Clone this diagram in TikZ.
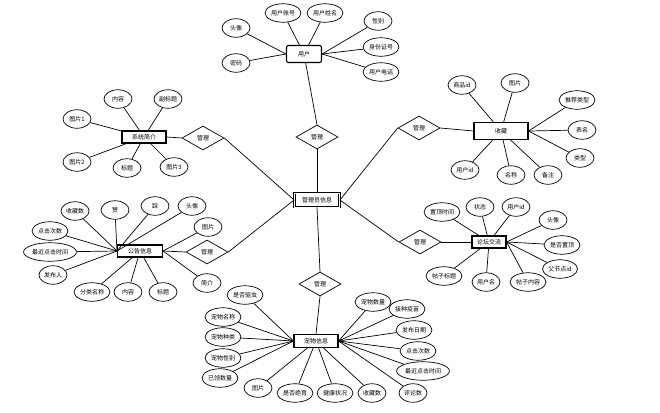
\documentclass[tikz,border=0pt]{standalone}
\usepackage{fontspec}
\setmainfont{Noto Sans CJK SC}
\usetikzlibrary{shapes.geometric}

\tikzset{
  entity/.style={draw, line width=1.1pt, minimum height=12pt, inner sep=1.5pt},
  attr/.style={draw, ellipse, minimum height=18.5pt, minimum width=28pt, inner sep=0.7pt},
  rel/.style={draw, diamond, minimum width=42pt, minimum height=24pt, inner sep=0pt},
}

\begin{document}
\begin{tikzpicture}[x=1pt, y=-1pt, line width=0.7pt, every node/.style={font=\fontsize{6}{7}\selectfont}]
    \useasboundingbox (0,0) rectangle (660,412);

    % centre and relations
    \node[entity, double, double distance=0.8pt, line width=0.8pt, minimum width=45pt, minimum height=14pt] (admin) at (317,200) {管理员信息};
    \node[rel] (r1) at (317,137) {管理};
    \node[rel] (r2) at (203,138) {管理};
    \node[rel] (r3) at (419,128) {管理};
    \node[rel] (r4) at (207,252) {管理};
    \node[rel] (r5) at (420,242) {管理};
    \node[rel] (r6) at (320,284) {管理};

    % user
    \node[entity, rounded corners=2pt, minimum width=35pt, minimum height=17pt] (user) at (304,54) {用户};
    \node[attr] (u1) at (236,28) {头像};
    \node[attr] (u2) at (283,13) {用户账号};
    \node[attr] (u3) at (325,13) {用户姓名};
    \node[attr] (u4) at (378,21) {性别};
    \node[attr] (u5) at (381,47) {身份证号};
    \node[attr] (u6) at (381,72) {用户电话};
    \node[attr] (u7) at (236,63) {密码};
    \draw (u1) -- (user.west);
    \draw (u7) -- (user.west);
    \draw (u2) -- (user);
    \draw (u3) -- (user);
    \draw (u4) -- (user.east);
    \draw (u5) -- (user.east);
    \draw (u6) -- (user.east);

    % system intro
    \node[entity, minimum width=44pt] (intro) at (144,137) {系统简介};
    \node[attr] (s1) at (118,99) {内容};
    \node[attr] (s2) at (168,99) {副标题};
    \node[attr] (s3) at (77,119) {图片1};
    \node[attr] (s4) at (77,162) {图片2};
    \node[attr] (s5) at (127,168) {标题};
    \node[attr] (s6) at (174,167) {图片3};
    \draw (s1) -- (intro);
    \draw (s2) -- (intro);
    \draw (s3) -- (intro);
    \draw (s4) -- (intro);
    \draw (s5) -- (intro);
    \draw (s6) -- (intro);

    % favourites
    \node[entity, minimum width=54pt, minimum height=17pt] (fav) at (501,131) {收藏};
    \node[attr] (f1) at (462,85) {商品id};
    \node[attr] (f2) at (515,83) {图片};
    \node[attr] (f3) at (577,100) {推荐类型};
    \node[attr] (f4) at (582,130) {表名};
    \node[attr] (f5) at (580,158) {类型};
    \node[attr] (f6) at (465,170) {用户id};
    \node[attr] (f7) at (511,175) {名称};
    \node[attr] (f8) at (548,175) {备注};
    \draw (f1) -- (fav);
    \draw (f2) -- (fav);
    \draw (f3) -- (fav.east);
    \draw (f4) -- (fav.east);
    \draw (f5) -- (fav.east);
    \draw (f6) -- (fav);
    \draw (f7) -- (fav);
    \draw (f8) -- (fav);

    % notices
    \node[entity, minimum width=45pt] (notice) at (140,251) {公告信息};
    \node[attr] (n1) at (75,211) {收藏数};
    \node[attr] (n2) at (115,210) {赞};
    \node[attr] (n3) at (155,206) {踩};
    \node[attr] (n4) at (192,206) {头像};
    \node[attr] (n5) at (208,227) {图片};
    \node[attr] (n6) at (50,231) {点击次数};
    \node[attr] (n7) at (50,252) {最近点击时间};
    \node[attr] (n8) at (53,275) {发布人};
    \node[attr] (n9) at (92,292) {分类名称};
    \node[attr] (n10) at (128,292) {内容};
    \node[attr] (n11) at (163,292) {标题};
    \node[attr] (n12) at (207,283) {简介};
    \draw (n1) -- (notice.west);
    \draw (n2) -- (notice.west);
    \draw (n3) -- (notice.west);
    \draw (n4) -- (notice.west);
    \draw (n5) -- (notice.east);
    \draw (n6) -- (notice.west);
    \draw (n7) -- (notice.west);
    \draw (n8) -- (notice.west);
    \draw (n9) -- (notice);
    \draw (n10) -- (notice);
    \draw (n11) -- (notice);
    \draw (n12) -- (notice.east);

    % forum
    \node[entity, minimum width=34pt] (forum) at (489,242) {论坛交流};
    \node[attr] (t1) at (442,212) {置顶时间};
    \node[attr] (t2) at (480,207) {状态};
    \node[attr] (t3) at (516,207) {用户id};
    \node[attr] (t4) at (553,220) {头像};
    \node[attr] (t5) at (562,245) {是否置顶};
    \node[attr] (t6) at (560,269) {父节点id};
    \node[attr] (t7) at (528,282) {帖子内容};
    \node[attr] (t8) at (486,282) {用户名};
    \node[attr] (t9) at (444,276) {帖子标题};
    \draw (t1) -- (forum);
    \draw (t2) -- (forum);
    \draw (t3) -- (forum);
    \draw (t4) -- (forum.east);
    \draw (t5) -- (forum.east);
    \draw (t6) -- (forum.east);
    \draw (t7) -- (forum.east);
    \draw (t8) -- (forum);
    \draw (t9) -- (forum);

    % pets
    \node[entity, minimum width=44pt, minimum height=13pt] (pet) at (316,341) {宠物信息};
    \node[attr] (p1) at (245,295) {是否驱虫};
    \node[attr] (p2) at (223,317) {宠物名称};
    \node[attr] (p3) at (223,337) {宠物种类};
    \node[attr] (p4) at (223,358) {宠物性别};
    \node[attr] (p5) at (220,378) {已领数量};
    \node[attr] (p6) at (258,388) {图片};
    \node[attr] (p7) at (295,393) {是否绝育};
    \node[attr] (p8) at (335,393) {健康状况};
    \node[attr] (p9) at (372,393) {收藏数};
    \node[attr] (p10) at (413,393) {评论数};
    \node[attr] (p11) at (423,371) {最近点击时间};
    \node[attr] (p12) at (418,351) {点击次数};
    \node[attr] (p13) at (414,330) {发布日期};
    \node[attr] (p14) at (407,309) {接种疫苗};
    \node[attr] (p15) at (373,302) {宠物数量};
    \draw (p1) -- (pet.west);
    \draw (p2) -- (pet.west);
    \draw (p3) -- (pet.west);
    \draw (p4) -- (pet.west);
    \draw (p5) -- (pet.west);
    \draw (p6) -- (pet);
    \draw (p7) -- (pet);
    \draw (p8) -- (pet);
    \draw (p9) -- (pet);
    \draw (p10) -- (pet.east);
    \draw (p11) -- (pet.east);
    \draw (p12) -- (pet.east);
    \draw (p13) -- (pet.east);
    \draw (p14) -- (pet.east);
    \draw (p15) -- (pet.east);

    % relations to entities
    \draw (user) -- (r1.north);
    \draw[line width=1pt] (r1.south) -- (admin.north);
    \draw (intro.east) -- (r2.west);
    \draw (r2.east) -- (admin.west);
    \draw (fav.west) -- (r3.east);
    \draw (r3.west) -- (admin.east);
    \draw (notice.east) -- (r4.west);
    \draw (r4.east) -- (admin.west);
    \draw (forum.west) -- (r5.east);
    \draw (r5.west) -- (admin.east);
    \draw (admin.south) -- (r6.north);
    \draw (r6.south) -- (pet.north);
\end{tikzpicture}
\end{document}
